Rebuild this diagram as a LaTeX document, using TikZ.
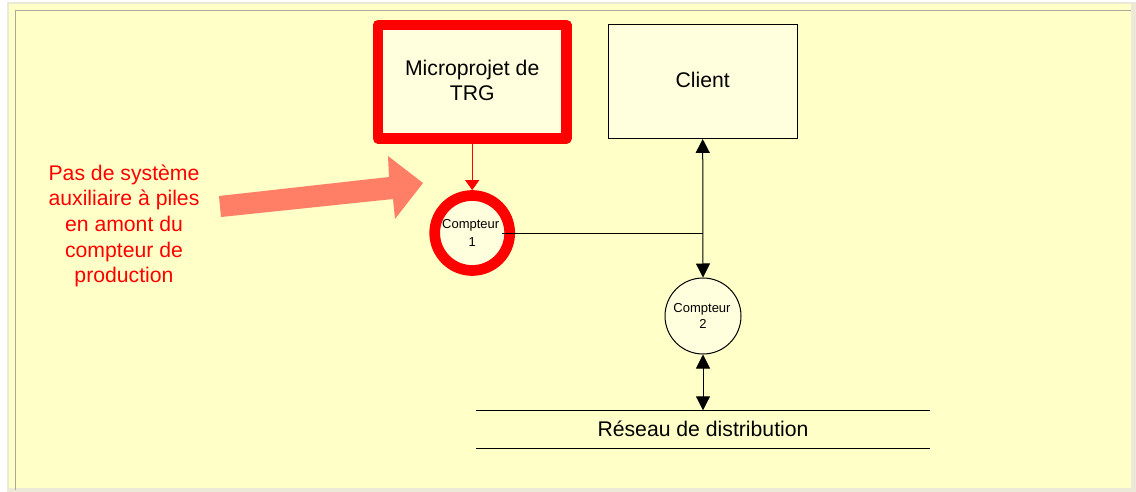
\documentclass[tikz,border=0pt]{standalone}
\usepackage{fontspec}
\setmainfont{Liberation Sans}
\definecolor{pagebg}{HTML}{FFFFC8}
\definecolor{boxbg}{HTML}{FFFFDE}
\definecolor{bandc}{HTML}{EDE9D8}
\definecolor{framec}{HTML}{ABA99B}
\definecolor{salmon}{HTML}{FF7F66}
\definecolor{redc}{HTML}{FF0000}
\usetikzlibrary{arrows.meta}
\tikzset{
 x=1pt,y=-1pt,
 bigbox/.style={draw=black,fill=boxbg,line width=1pt,minimum width=189pt,minimum height=113.5pt,align=center,inner sep=0pt,font=\fontsize{21.2}{25.3}\selectfont},
 meter/.style={circle,draw=black,fill=boxbg,line width=1pt,minimum size=76pt,inner sep=0pt,align=center,font=\fontsize{13}{16.5}\selectfont},
 hot/.style={draw=redc,line width=10.7pt,line join=round},
 link/.style={draw=black,line width=1pt},
 biarrow/.style={link,{Triangle[length=14pt,width=14pt]}-{Triangle[length=14pt,width=14pt]}},
 noteText/.style={text=redc,align=center,font=\fontsize{21.2}{25.7}\selectfont,inner sep=0pt}
}
\begin{document}
\begin{tikzpicture}
\useasboundingbox (0,0) rectangle (1136,492);
\fill[white] (0,0) rectangle (1136,492);
\fill[bandc] (7,2) rectangle (1136,492);
\fill[pagebg] (9,4) rectangle (1131,488);
\draw[framec,line width=1pt] (15,490) -- (15,10.5) -- (1131,10.5);
\node[bigbox,hot,minimum width=188.5pt,minimum height=113.5pt] (micro) at (472.2,81.7) {\raisebox{3pt}{Microprojet de}\\\raisebox{3pt}{TRG}};
\node[bigbox] (client) at (702.7,81.7) {\raisebox{3pt}{Client}};
\node[meter,hot,minimum size=75pt] (c1) at (472.2,233) {\raisebox{2pt}{\hspace*{-3pt}Compteur}\\1};
\node[meter] (c2) at (703,316) {\hspace*{-2pt}Compteur\\2};
\coordinate (j) at (702.7,233);
\node[inner sep=0pt,minimum width=454pt,minimum height=38pt,font=\fontsize{21.2}{25}\selectfont] (net) at (703,429.5) {\raisebox{2pt}{Réseau de distribution}};
\draw[link] (net.north west) -- (net.north east);
\draw[link] (net.south west) -- (net.south east);
\draw[redc,line width=1pt,-{Triangle[length=10pt,width=14pt]}] (micro.south) -- (c1.north);
\draw[link] (c1.east) ++(-13,0) -- (j);
\draw[biarrow] (client.south) -- (c2.north);
\draw[biarrow] (c2.south) -- (net.north);
\fill[salmon] (219,196) -- (389,177) -- (388,156) -- (423,183) -- (395,219) -- (393,199) -- (221,217) -- cycle;
\node[noteText] (note) at (124,225.8) {Pas de système\\auxiliaire à piles\\en amont du\\compteur de\\production};
\end{tikzpicture}
\end{document}
